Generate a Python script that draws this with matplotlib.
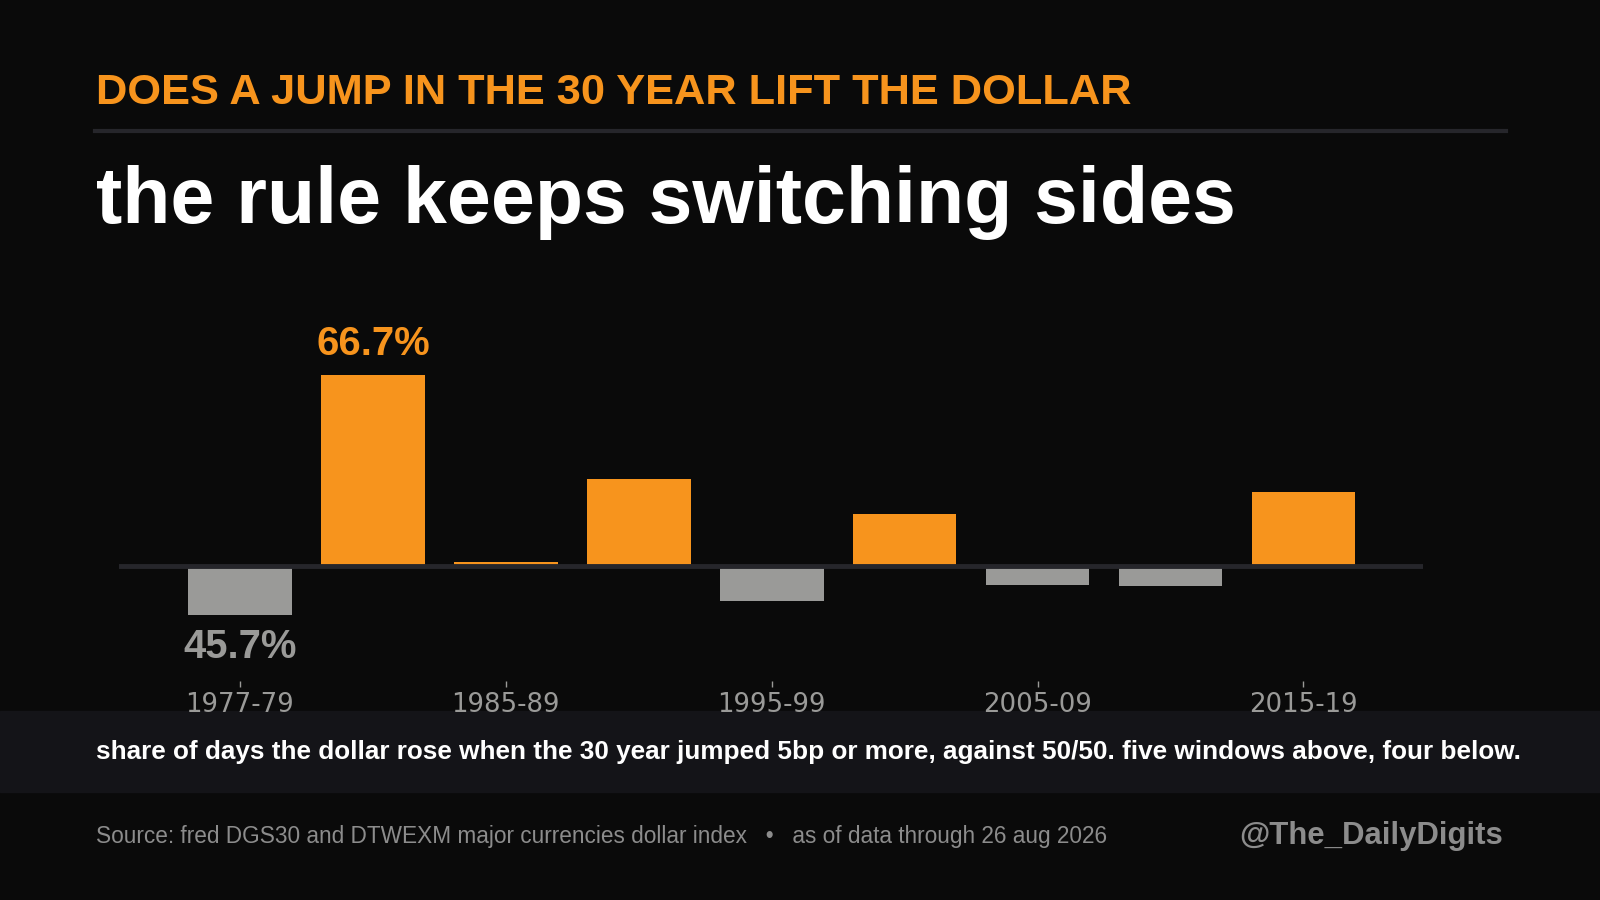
import matplotlib
matplotlib.use("Agg")
import matplotlib.pyplot as plt
import numpy as np

# share of days the dollar rose when the 30 year jumped 5bp or more
windows = ['1977-79', '1980-84', '1985-89', '1990-94', '1995-99',
           '2000-04', '2005-09', '2010-14', '2015-19']
share_up = [45.7, 66.7, 50.3, 57.6, 46.9, 54.5, 48.3, 48.2, 56.5]
tick_windows = ['1977-79', '1985-89', '1995-99', '2005-09', '2015-19']
even_line = 50.0

BG = '#0a0a0a'
ORANGE = '#f7941d'
GRAY = '#9a9a98'
BAND = '#141418'
RULE = '#26262b'

plt.rcParams['font.family'] = ['Liberation Sans', 'DejaVu Sans']

fig = plt.figure(figsize=(16, 9), dpi=100, facecolor=BG)

# footer band behind the caption
band = plt.Rectangle((0, 1 - 792 / 900), 1, 81 / 900,
                     transform=fig.transFigure, color=BAND, zorder=-1)
fig.patches.append(band)

# headline texts
fig.text(96 / 1600, 1 - 93 / 900, 'DOES A JUMP IN THE 30 YEAR LIFT THE DOLLAR',
         color=ORANGE, fontsize=31.2, fontweight='bold', va='center', ha='left')
fig.add_artist(plt.Line2D([95 / 1600, 1506 / 1600], [1 - 131 / 900] * 2,
                          transform=fig.transFigure, color=RULE, linewidth=3))
fig.text(96 / 1600, 1 - 223 / 900, 'the rule keeps switching sides',
         color='white', fontsize=56.8, fontweight='bold', va='baseline', ha='left')

# bar chart
ax = fig.add_axes([119 / 1600, 1 - 681 / 900, 1304 / 1600, 381 / 900])
ax.set_zorder(1)
ax.set_facecolor('none')
x = np.arange(len(windows))
heights = [v - even_line for v in share_up]
colors = [ORANGE if v >= even_line else GRAY for v in share_up]
ax.bar(x, heights, bottom=even_line, width=0.78, color=colors, zorder=2)
ax.axhline(even_line, color=RULE, linewidth=3.5, zorder=3)

ax.set_xlim(-0.91, 8.9)
ax.set_ylim(39.9, 73.3)

# label the extremes
i_max = int(np.argmax(share_up))
i_min = int(np.argmin(share_up))
ax.annotate(f'{share_up[i_max]:.1f}%', (x[i_max], share_up[i_max]),
            xytext=(0, 9), textcoords='offset points', ha='center', va='bottom',
            color=ORANGE, fontsize=28.8, fontweight='bold')
ax.annotate(f'{share_up[i_min]:.1f}%', (x[i_min], share_up[i_min]),
            xytext=(0, -9.5), textcoords='offset points', ha='center', va='top',
            color=GRAY, fontsize=28.8, fontweight='bold')

ax.set_xticks([windows.index(w) for w in tick_windows])
ax.set_xticklabels(tick_windows, family='DejaVu Sans', fontsize=18.7, color=GRAY)
ax.tick_params(axis='x', colors=GRAY, length=4, width=1, pad=4)
ax.tick_params(axis='x', labelcolor=GRAY)
ax.set_yticks([])
for s in ax.spines.values():
    s.set_visible(False)

# caption and footer
fig.text(96 / 1600, 1 - 752 / 900,
         'share of days the dollar rose when the 30 year jumped 5bp or more, '
         'against 50/50. five windows above, four below.',
         color='white', fontsize=18.8, fontweight='bold', va='center', ha='left')
fig.text(96 / 1600, 1 - 837 / 900,
         'Source: fred DGS30 and DTWEXM major currencies dollar index   \u2022   '
         'as of data through 26 aug 2026',
         color='#8c8c8c', fontsize=16.25, va='center', ha='left')
fig.text(1503 / 1600, 1 - 836 / 900, '@The_DailyDigits',
         color='#8c8c8c', fontsize=22.4, fontweight='bold', va='center', ha='right')

fig.savefig('out.png', dpi=100, facecolor=BG)
